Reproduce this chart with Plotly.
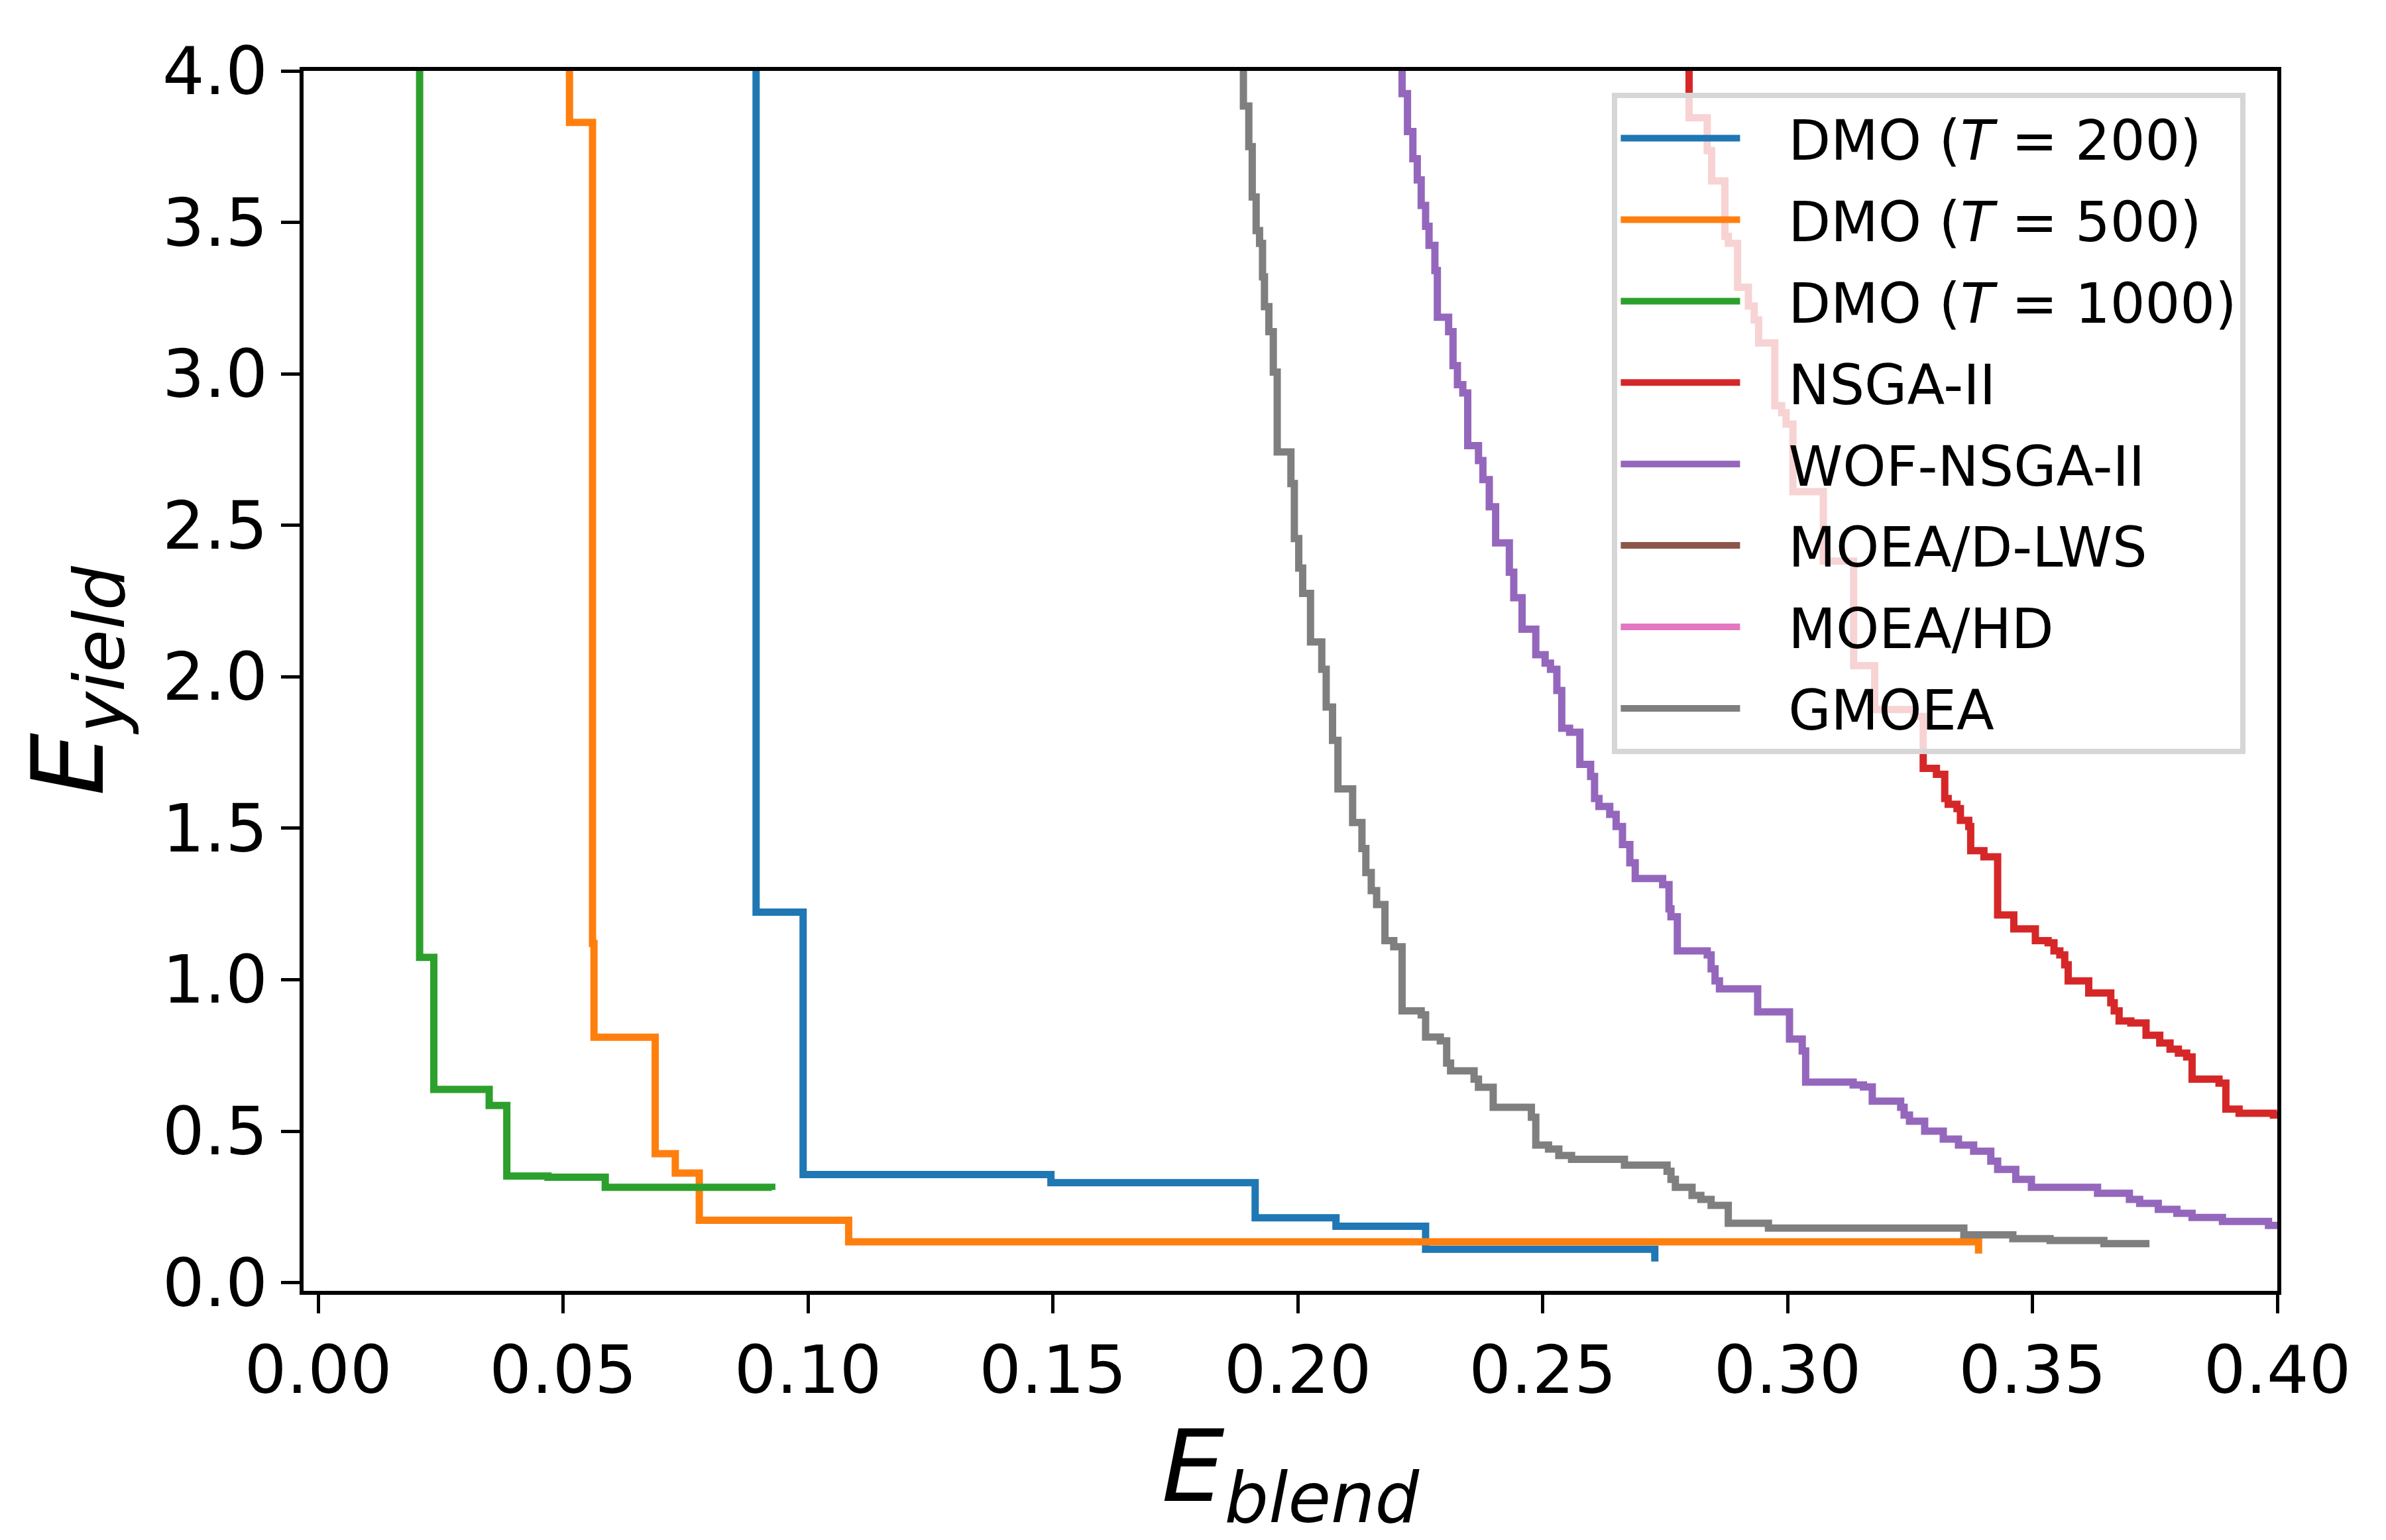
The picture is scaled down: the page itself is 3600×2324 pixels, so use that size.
import plotly.graph_objects as go

# ---- data (E_blend, E_yield) step fronts; each point = (x where the curve drops, level after drop)
dmo200_x = [0.0894, 0.0894, 0.0990, 0.1496, 0.1913, 0.2078, 0.2261, 0.2729]
dmo200_y = [4.5, 1.223, 0.357, 0.330, 0.214, 0.186, 0.110, 0.070]

dmo500_x = [0.0513, 0.0513, 0.0560, 0.0563, 0.0688, 0.0729, 0.0778, 0.1083, 0.3390]
dmo500_y = [4.5, 3.830, 1.120, 0.810, 0.426, 0.362, 0.206, 0.135, 0.096]

dmo1000_x = [0.0207, 0.0207, 0.0236, 0.0349, 0.0385, 0.0469, 0.0586, 0.0926]
dmo1000_y = [4.5, 1.074, 0.638, 0.585, 0.352, 0.348, 0.315, 0.306]

nsga_x = [0.2799, 0.2799, 0.2836, 0.2845, 0.2872, 0.2879, 0.2898, 0.2920, 0.2932, 0.2941,
          0.2974, 0.2988, 0.2997, 0.3011, 0.3073, 0.3135, 0.3178, 0.3258, 0.3277, 0.3304,
          0.3321, 0.3328, 0.3346, 0.3353, 0.3370, 0.3374, 0.3401, 0.3429, 0.3462, 0.3506,
          0.3532, 0.3544, 0.3556, 0.3566, 0.3573, 0.3615, 0.3660, 0.3667, 0.3677, 0.3701,
          0.3732, 0.3760, 0.3781, 0.3798, 0.3815, 0.3826, 0.3881, 0.3895, 0.3922, 0.3992,
          0.4050]
nsga_y = [4.5, 3.845, 3.737, 3.637, 3.454, 3.431, 3.286, 3.224, 3.178, 3.102,
          2.895, 2.872, 2.834, 2.611, 2.382, 2.037, 1.892, 1.869, 1.698, 1.678,
          1.598, 1.579, 1.565, 1.526, 1.506, 1.426, 1.406, 1.214, 1.168, 1.129,
          1.122, 1.095, 1.082, 1.049, 0.996, 0.956, 0.924, 0.897, 0.864, 0.857,
          0.817, 0.791, 0.771, 0.758, 0.745, 0.672, 0.659, 0.573, 0.559, 0.553,
          0.540]

wof_x = [0.2213, 0.2213, 0.2224, 0.2235, 0.2244, 0.2252, 0.2261, 0.2268, 0.2280, 0.2285,
         0.2308, 0.2317, 0.2326, 0.2337, 0.2347, 0.2369, 0.2378, 0.2391, 0.2404, 0.2432,
         0.2441, 0.2458, 0.2486, 0.2505, 0.2516, 0.2529, 0.2539, 0.2555, 0.2576, 0.2598,
         0.2606, 0.2615, 0.2637, 0.2650, 0.2663, 0.2678, 0.2689, 0.2745, 0.2758, 0.2762,
         0.2775, 0.2836, 0.2844, 0.2852, 0.2861, 0.2939, 0.3004, 0.3030, 0.3037, 0.3134,
         0.3155, 0.3173, 0.3231, 0.3238, 0.3249, 0.3280, 0.3318, 0.3349, 0.3380, 0.3415,
         0.3429, 0.3466, 0.3498, 0.3633, 0.3698, 0.3719, 0.3757, 0.3795, 0.3826, 0.3888,
         0.3982, 0.4050]
wof_y = [4.5, 3.925, 3.800, 3.710, 3.640, 3.556, 3.487, 3.424, 3.341, 3.187,
         3.139, 3.027, 2.964, 2.937, 2.763, 2.714, 2.651, 2.561, 2.442, 2.345,
         2.261, 2.157, 2.073, 2.045, 2.025, 1.955, 1.830, 1.817, 1.711, 1.671,
         1.598, 1.572, 1.546, 1.506, 1.446, 1.386, 1.334, 1.314, 1.234, 1.208,
         1.095, 1.082, 1.036, 0.996, 0.970, 0.894, 0.804, 0.765, 0.662, 0.653,
         0.646, 0.599, 0.579, 0.553, 0.533, 0.500, 0.474, 0.454, 0.434, 0.401,
         0.374, 0.341, 0.315, 0.295, 0.275, 0.262, 0.242, 0.229, 0.215, 0.202,
         0.189, 0.180]

lws_x, lws_y = [None], [None]
hd_x, hd_y = [None], [None]

gmoea_x = [0.1889, 0.1889, 0.1900, 0.1907, 0.1915, 0.1922, 0.1928, 0.1932, 0.1941, 0.1950,
           0.1958, 0.1986, 0.1993, 0.2002, 0.2010, 0.2026, 0.2049, 0.2058, 0.2071, 0.2082,
           0.2112, 0.2131, 0.2139, 0.2150, 0.2161, 0.2178, 0.2196, 0.2213, 0.2252, 0.2261,
           0.2291, 0.2304, 0.2312, 0.2360, 0.2369, 0.2399, 0.2477, 0.2486, 0.2512, 0.2533,
           0.2559, 0.2667, 0.2754, 0.2762, 0.2771, 0.2805, 0.2823, 0.2844, 0.2879, 0.2961,
           0.3360, 0.3460, 0.3536, 0.3646, 0.3739]
gmoea_y = [4.5, 3.884, 3.750, 3.584, 3.473, 3.431, 3.320, 3.222, 3.139, 3.006,
           2.742, 2.638, 2.456, 2.359, 2.275, 2.115, 2.025, 1.900, 1.790, 1.630,
           1.519, 1.433, 1.354, 1.294, 1.248, 1.129, 1.109, 0.897, 0.884, 0.811,
           0.798, 0.725, 0.699, 0.672, 0.645, 0.579, 0.546, 0.454, 0.441, 0.420,
           0.407, 0.388, 0.368, 0.341, 0.315, 0.288, 0.275, 0.255, 0.196, 0.180,
           0.158, 0.145, 0.139, 0.129, 0.129]

GAP = "\u2002\u00a0"  # gap between legend line sample and label
series = [
    ("DMO (<i>T</i> = 200)", dmo200_x, dmo200_y, "#1f77b4"),
    ("DMO (<i>T</i> = 500)", dmo500_x, dmo500_y, "#ff7f0e"),
    ("DMO (<i>T</i> = 1000)", dmo1000_x, dmo1000_y, "#2ca02c"),
    ("NSGA-II", nsga_x, nsga_y, "#d62728"),
    ("WOF-NSGA-II", wof_x, wof_y, "#9467bd"),
    ("MOEA/D-LWS", lws_x, lws_y, "#8c564b"),
    ("MOEA/HD", hd_x, hd_y, "#e377c2"),
    ("GMOEA", gmoea_x, gmoea_y, "#7f7f7f"),
]

x_ticks = [0.00, 0.05, 0.10, 0.15, 0.20, 0.25, 0.30, 0.35, 0.40]
y_ticks = [0.0, 0.5, 1.0, 1.5, 2.0, 2.5, 3.0, 3.5, 4.0]

FONT = "DejaVu Sans"

fig = go.Figure()
for i, (name, xs, ys, col) in enumerate(series):
    fig.add_trace(go.Scatter(
        x=xs, y=ys, name=GAP + name, mode="lines",
        line=dict(color=col, width=11, shape="hv"),
        legendgroup=f"g{i}",
    ))

axis_common = dict(
    showline=True, linecolor="black", linewidth=6, mirror=True,
    ticks="outside", ticklen=28, tickwidth=5, tickcolor="black",
    showgrid=False, zeroline=False,
    tickfont=dict(family=FONT, size=100, color="black"),
)

fig.update_layout(
    width=3600, height=2324,
    margin=dict(l=450, r=172, t=99, b=384, pad=0),
    plot_bgcolor="white", paper_bgcolor="white",
    font=dict(family=FONT, color="black"),
    xaxis=dict(
        range=[-0.0030, 0.4], tickvals=x_ticks,
        ticktext=[f"{v:.2f}" for v in x_ticks],
        title=dict(text="<i>E</i><sub><i>blend</i></sub>",
                   font=dict(family=FONT, size=150, color="black"), standoff=22),
        **axis_common,
    ),
    yaxis=dict(
        range=[-0.027, 4.0], tickvals=y_ticks,
        ticktext=[f"{v:.1f}" for v in y_ticks],
        title=dict(text="<i>E</i><sub><i>yield</i></sub>",
                   font=dict(family=FONT, size=150, color="black"), standoff=40),
        **axis_common,
    ),
    legend=dict(
        x=0.663, y=0.982, xanchor="left", yanchor="top",
        bgcolor="rgba(255,255,255,0.8)", bordercolor="#d6d6d6", borderwidth=8,
        font=dict(family=FONT, size=83, color="black"),
        itemwidth=180, tracegroupgap=12,
    ),
    showlegend=True,
)

fig.write_html("out.html")
